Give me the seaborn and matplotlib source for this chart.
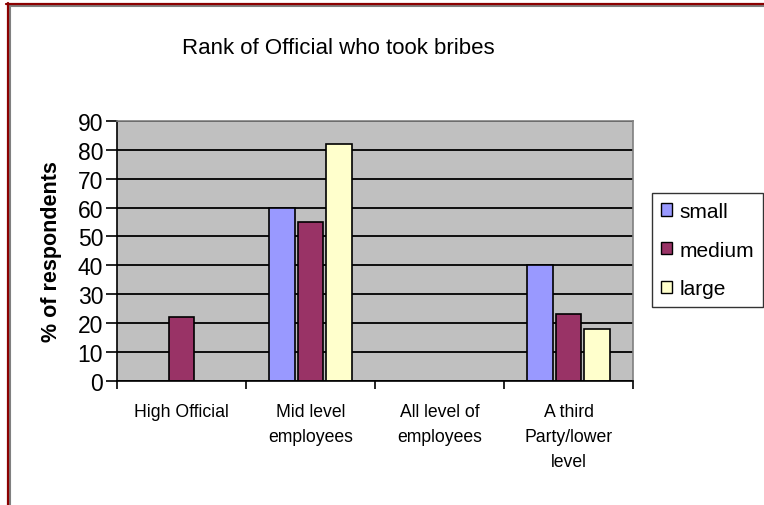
import matplotlib
matplotlib.use("Agg")
import matplotlib.pyplot as plt
from matplotlib.lines import Line2D
from matplotlib.patches import Patch
import pandas as pd
import seaborn as sns

# Survey results: share of respondents naming each rank, by firm size
categories = ["High Official", "Mid level employees", "All level of employees",
              "A third Party/lower level"]
tick_labels = ["High Official", "Mid level\nemployees", "All level of\nemployees",
               "A third\nParty/lower\nlevel"]
sizes = ["small", "medium", "large"]
small = [0, 60, 0, 40]
medium = [22, 55, 0, 23]
large = [0, 82, 0, 18]

colors = {"small": "#9999FF", "medium": "#993366", "large": "#FFFFCC"}

rows = []
for cat, s, m, l in zip(categories, small, medium, large):
    for size, v in zip(sizes, (s, m, l)):
        if v > 0:
            rows.append({"rank": cat, "size": size, "pct": v})
df = pd.DataFrame(rows)

sns.set_theme(style="white")
plt.rcParams["font.family"] = ["Liberation Sans", "DejaVu Sans"]
for key in ("text.color", "axes.labelcolor", "xtick.color", "ytick.color"):
    plt.rcParams[key] = "black"

W, H = 764, 506
fig = plt.figure(figsize=(W / 100, H / 100), dpi=100)
ax = fig.add_axes([117 / W, 1 - 381.7 / H, (633 - 117) / W, (381.7 - 122) / H])
ax.set_facecolor("#C0C0C0")

sns.barplot(data=df, x="rank", y="pct", hue="size", order=categories,
            hue_order=sizes, palette=colors, saturation=1, width=0.66, gap=0.1,
            edgecolor="black", linewidth=1.2, legend=False, ax=ax, zorder=3)

ax.set_ylim(0, 90)
ax.set_xlim(-0.5, len(categories) - 0.5)
ax.set_yticks(range(0, 91, 10))
ax.yaxis.grid(True, color="black", linewidth=1.3, zorder=1)
ax.set_axisbelow(True)

# Category boundaries carry the tick marks; labels sit between them
ax.set_xticks([i - 0.5 for i in range(len(categories) + 1)])
ax.set_xticklabels([])
ax.set_xticks(range(len(categories)), minor=True)
ax.set_xticklabels(tick_labels, minor=True, fontsize=12.7, linespacing=1.6,
                   va="top")
ax.tick_params(axis="x", which="minor", length=0, pad=16)
ax.tick_params(axis="x", which="major", length=6, width=1.2, color="black",
               direction="out", bottom=True)
ax.tick_params(axis="y", length=8, width=1.2, color="black", direction="out",
               left=True, labelsize=16.5, pad=2)

ax.set_xlabel("")
ax.set_ylabel("% of respondents", fontsize=15.5, fontweight="bold", labelpad=11)

for name, sp in ax.spines.items():
    sp.set_visible(True)
    sp.set_color("#808080")
    sp.set_linewidth(1.2)
ax.spines["bottom"].set_color("black")
ax.spines["left"].set_color("black")
ax.spines["bottom"].set_zorder(4)

fig.text(338 / W, 1 - 48 / H, "Rank of Official who took bribes",
         ha="center", va="center", fontsize=16)

handles = [Patch(facecolor=colors[s], edgecolor="black", linewidth=1.0, label=s)
           for s in sizes]
leg = fig.legend(handles=handles, loc="upper left",
                 bbox_to_anchor=(652 / W, 1 - 194 / H), frameon=True,
                 fontsize=15, handlelength=0.55, handleheight=0.55,
                 handletextpad=0.35, labelspacing=0.95, borderpad=0.42,
                 fancybox=False, borderaxespad=0)
leg.get_frame().set_edgecolor("black")
leg.get_frame().set_linewidth(1.0)

# Slide frame along the top and left edges
fig.add_artist(Line2D([8 / W, 1], [1 - 6.5 / H, 1 - 6.5 / H],
                      transform=fig.transFigure, color="#808080", lw=1.5))
fig.add_artist(Line2D([9.5 / W, 9.5 / W], [0, 1 - 5 / H],
                      transform=fig.transFigure, color="#808080", lw=1.5))
fig.add_artist(Line2D([6 / W, 1], [1 - 4.5 / H, 1 - 4.5 / H],
                      transform=fig.transFigure, color="#8B0000", lw=1.6))
fig.add_artist(Line2D([7.5 / W, 7.5 / W], [0, 1 - 4 / H],
                      transform=fig.transFigure, color="#8B0000", lw=1.6))

fig.savefig("out.png", dpi=100)
